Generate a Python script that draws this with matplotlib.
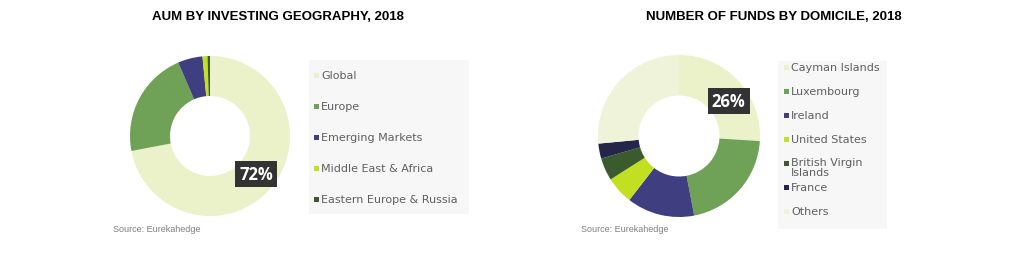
import numpy as np
import matplotlib
matplotlib.use("Agg")
import matplotlib.pyplot as plt
from matplotlib.patches import Rectangle

# data
geo_labels = ["Global", "Europe", "Emerging Markets", "Middle East & Africa", "Eastern Europe & Russia"]
geo_values = [72, 21.5, 5, 1, 0.5]
geo_colors = ["#ebf1c8", "#6fa256", "#3e3e80", "#c3df22", "#3b5a2e"]

dom_labels = ["Cayman Islands", "Luxembourg", "Ireland", "United States", "British Virgin\nIslands", "France", "Others"]
dom_values = [26, 21, 13.5, 5.5, 4.5, 3, 26.5]
dom_colors = ["#ebf1c8", "#6fa256", "#3e3e80", "#c3df22", "#3b5a2e", "#25254a", "#eef3da"]

W, H = 1024, 255
fig = plt.figure(figsize=(W / 100, H / 100), dpi=100)
fig.patch.set_facecolor("white")

title_font = ["Liberation Sans Narrow", "Liberation Sans", "DejaVu Sans"]
text_grey = "#5f5f5f"


def px_axes(x0, y0, w, h):
    # pixel box (top-left origin) -> figure axes
    return fig.add_axes([x0 / W, 1 - (y0 + h) / H, w / W, h / H])


def donut(cx, cy, r, values, colors, label_idx, shift=0):
    ax = px_axes(cx - r, cy - r, 2 * r, 2 * r)
    wedges, _ = ax.pie(values, colors=colors, startangle=90, counterclock=False,
                       radius=1, wedgeprops=dict(width=0.5, linewidth=0))
    ax.set_xlim(-1, 1)
    ax.set_ylim(-1, 1)
    ax.set_aspect("equal")
    ax.axis("off")
    w = wedges[label_idx]
    mid = np.deg2rad((w.theta1 + w.theta2) / 2 - shift)
    pct = values[label_idx] / sum(values) * 100
    ax.text(0.75 * np.cos(mid), 0.75 * np.sin(mid), f"{pct:.0f}%", color="white",
            fontsize=12, fontweight="bold", family=["Open Sans", "DejaVu Sans"],
            ha="center", va="center",
            bbox=dict(boxstyle="square,pad=0.25", fc="#333333", ec="none"))
    return ax


def legend_box(x0, y0, x1, y1, labels, colors, ys, sq_x, txt_x):
    fig.patches.append(Rectangle((x0 / W, 1 - y1 / H), (x1 - x0) / W, (y1 - y0) / H,
                                 transform=fig.transFigure, fc="#f7f7f7", ec="none", zorder=0))
    for lab, col, y in zip(labels, colors, ys):
        fig.patches.append(Rectangle((sq_x / W, 1 - (y + 3) / H), 5 / W, 5 / H,
                                     transform=fig.transFigure, fc=col, ec="none", zorder=2))
        if "\n" in lab:
            fig.text(txt_x / W, 1 - (y - 6) / H, lab, fontsize=8, color=text_grey,
                     ha="left", va="top", linespacing=1.0, zorder=3)
        else:
            fig.text(txt_x / W, 1 - y / H, lab, fontsize=8, color=text_grey,
                     ha="left", va="center", zorder=3)


# left chart
fig.text(278 / W, 1 - 17 / H, "AUM BY INVESTING GEOGRAPHY, 2018", ha="center", va="center",
         fontsize=9.5, fontweight="bold", family=title_font, color="black")
donut(210, 137, 80, geo_values, geo_colors, 0)
legend_box(309, 61, 469, 215, geo_labels, geo_colors, [76, 107, 138, 169, 200], 314, 321)
fig.text(113 / W, 1 - 230 / H, "Source: Eurekahedge", fontsize=6.5, color="#7f7f7f",
         family=title_font, ha="left", va="center")

# right chart
fig.text(774 / W, 1 - 17 / H, "NUMBER OF FUNDS BY DOMICILE, 2018", ha="center", va="center",
         fontsize=9.5, fontweight="bold", family=title_font, color="black")
donut(679, 137, 81, dom_values, dom_colors, 0, shift=8)
legend_box(778, 62, 887, 230, dom_labels, dom_colors, [68, 92, 116, 140, 164, 188, 212], 784, 791)
fig.text(581 / W, 1 - 230 / H, "Source: Eurekahedge", fontsize=6.5, color="#7f7f7f",
         family=title_font, ha="left", va="center")

fig.savefig("out.png", dpi=100, facecolor="white")
